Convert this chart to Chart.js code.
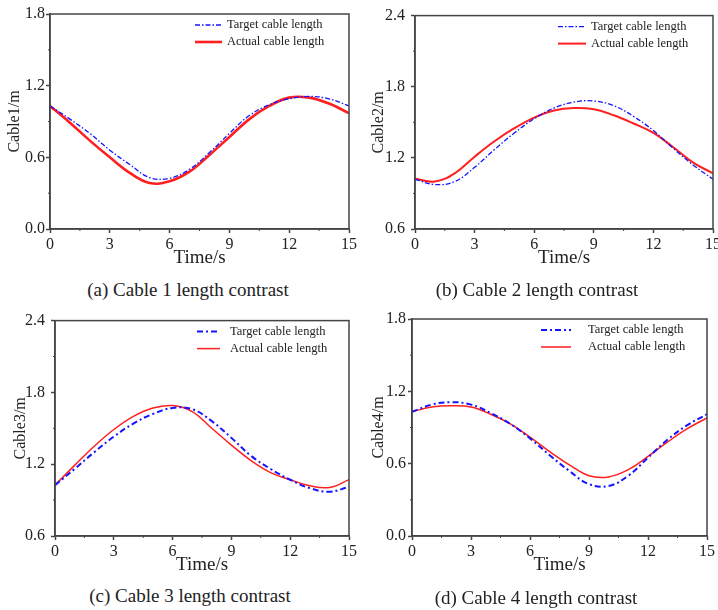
<!DOCTYPE html>
<html>
<head>
<meta charset="utf-8">
<script src="https://cdn.jsdelivr.net/npm/chart.js@4.4.1/dist/chart.umd.min.js"></script>
<style>
  body { margin: 0; background: #fff; width: 718px; height: 610px; position: relative; overflow: hidden; }
  canvas { position: absolute; }
  .cap { position: absolute; font: 19px "Liberation Serif", serif; color: #222; white-space: nowrap; transform: translate(-50%, -50%); }
</style>
</head>
<body>
<canvas id="c1" width="359" height="270" style="left:0;top:0"></canvas>
<canvas id="c2" width="365" height="270" style="left:358px;top:0"></canvas>
<canvas id="c3" width="359" height="272" style="left:0;top:305px"></canvas>
<canvas id="c4" width="359" height="272" style="left:358px;top:305px"></canvas>
<div class="cap" style="left:188px;top:290px">(a) Cable 1 length contrast</div>
<div class="cap" style="left:537px;top:290px">(b) Cable 2 length contrast</div>
<div class="cap" style="left:190px;top:596px">(c) Cable 3 length contrast</div>
<div class="cap" style="left:536px;top:598px">(d) Cable 4 length contrast</div>
<script>
const time = [0, 1, 2, 3, 4, 5, 6, 7, 8, 9, 10, 11, 12, 13, 14, 15];
const xTicks = [0, 3, 6, 9, 12, 15];

// cable lengths (m)
const cable1Target = [1.03, 0.92, 0.80, 0.66, 0.54, 0.43, 0.425, 0.50, 0.64, 0.80, 0.95, 1.04, 1.09, 1.11, 1.09, 1.03];
const cable1Actual = [1.03, 0.89, 0.74, 0.60, 0.47, 0.385, 0.40, 0.48, 0.62, 0.77, 0.92, 1.03, 1.10, 1.10, 1.05, 0.97];
const cable2Target = [1.02, 0.975, 1.00, 1.12, 1.27, 1.41, 1.53, 1.62, 1.67, 1.68, 1.64, 1.55, 1.43, 1.28, 1.14, 1.02];
const cable2Actual = [1.025, 1.00, 1.07, 1.21, 1.34, 1.45, 1.54, 1.60, 1.62, 1.61, 1.56, 1.49, 1.41, 1.29, 1.16, 1.07];
const cable3Target = [1.025, 1.16, 1.30, 1.43, 1.54, 1.62, 1.67, 1.66, 1.56, 1.42, 1.27, 1.16, 1.07, 1.00, 0.97, 1.01];
const cable3Actual = [1.025, 1.19, 1.35, 1.49, 1.60, 1.67, 1.69, 1.64, 1.50, 1.36, 1.23, 1.13, 1.07, 1.02, 1.005, 1.07];
const cable4Target = [1.03, 1.09, 1.11, 1.09, 1.02, 0.93, 0.81, 0.67, 0.54, 0.43, 0.415, 0.50, 0.65, 0.80, 0.92, 1.01];
const cable4Actual = [1.03, 1.07, 1.08, 1.07, 1.01, 0.93, 0.82, 0.70, 0.59, 0.50, 0.49, 0.55, 0.66, 0.78, 0.89, 0.98];

const legendLabels = ['Target cable length', 'Actual cable length'];
const serif = '"Liberation Serif", "Times New Roman", serif';

// box frame, minor ticks and the little legend in the top right corner
const framePlugin = {
  id: 'frame',
  afterDraw(chart, args, opts) {
    const { ctx, chartArea: a, scales } = chart;
    ctx.save();
    ctx.strokeStyle = '#444';
    ctx.lineWidth = 1.5;
    ctx.strokeRect(a.left, a.top, a.right - a.left, a.bottom - a.top);

    // minor ticks halfway between major ones
    ctx.lineWidth = 1;
    const xs = scales.x.ticks.map(t => t.value);
    for (let i = 0; i < xs.length - 1; i++) {
      const px = scales.x.getPixelForValue((xs[i] + xs[i + 1]) / 2);
      ctx.beginPath(); ctx.moveTo(px, a.bottom); ctx.lineTo(px, a.bottom + 2); ctx.stroke();
    }
    const ys = scales.y.ticks.map(t => t.value);
    for (let i = 0; i < ys.length - 1; i++) {
      const py = scales.y.getPixelForValue((ys[i] + ys[i + 1]) / 2);
      ctx.beginPath(); ctx.moveTo(a.left, py); ctx.lineTo(a.left - 2, py); ctx.stroke();
    }

    // legend
    ctx.font = '12.5px ' + serif;
    ctx.textBaseline = 'middle';
    ctx.fillStyle = '#222';
    chart.data.datasets.forEach((ds, i) => {
      const y = a.top + opts.rowY[i];
      ctx.strokeStyle = ds.borderColor;
      ctx.lineWidth = ds.borderWidth;
      ctx.setLineDash(ds.borderDash || []);
      ctx.beginPath();
      ctx.moveTo(a.right - opts.lineStart, y);
      ctx.lineTo(a.right - opts.lineEnd, y);
      ctx.stroke();
      ctx.setLineDash([]);
      ctx.fillText(ds.label, a.right - opts.textStart, y);
    });
    ctx.restore();
  }
};

function makeChart(id, p) {
  return new Chart(document.getElementById(id), {
    type: 'line',
    data: {
      labels: time,
      datasets: [
        {
          label: legendLabels[0],
          data: p.target,
          borderColor: '#1414ff',
          borderWidth: p.blueWidth,
          borderDash: p.blueDash,
          pointRadius: 0,
          tension: 0.4,
          fill: false
        },
        {
          label: legendLabels[1],
          data: p.actual,
          borderColor: '#ff1f1f',
          borderWidth: p.redWidth,
          pointRadius: 0,
          tension: 0.4,
          fill: false
        }
      ]
    },
    options: {
      responsive: false,
      animation: false,
      devicePixelRatio: 1,
      layout: { padding: { top: 14, right: p.padRight, left: 0, bottom: 0 } },
      plugins: {
        legend: { display: false },
        tooltip: { enabled: false },
        frame: p.legend
      },
      scales: {
        x: {
          type: 'linear',
          min: 0,
          max: 15,
          afterBuildTicks: s => { s.ticks = xTicks.map(v => ({ value: v })); },
          afterFit: s => { s.height = 41; },
          grid: { drawOnChartArea: false, tickLength: 4, tickColor: '#444', tickWidth: 1.5 },
          border: { color: '#444', width: 1.5 },
          ticks: { font: { family: serif, size: 16 }, color: '#222', padding: 2, maxRotation: 0 },
          title: { display: true, text: 'Time/s', font: { family: serif, size: 19 }, color: '#222', padding: { top: 0, bottom: 1 } }
        },
        y: {
          min: p.yMin,
          max: p.yMax,
          afterBuildTicks: s => { s.ticks = p.yTicks.map(v => ({ value: v })); },
          afterFit: s => { s.width = p.yWidth; },
          grid: { drawOnChartArea: false, tickLength: 4, tickColor: '#444', tickWidth: 1.5 },
          border: { color: '#444', width: 1.5 },
          ticks: { font: { family: serif, size: 16 }, color: '#222', padding: p.yPad, callback: v => v.toFixed(1) },
          title: { display: true, text: p.yTitle, font: { family: serif, size: 16 }, color: '#222', padding: { top: p.titlePad, bottom: 0 } }
        }
      }
    },
    plugins: [framePlugin]
  });
}

makeChart('c1', {
  target: cable1Target, actual: cable1Actual, yMin: 0, yMax: 1.8, yTicks: [0, 0.6, 1.2, 1.8],
  yTitle: 'Cable1/m', yWidth: 50, yPad: 1, titlePad: 5, padRight: 10,
  blueWidth: 1.3, blueDash: [5, 2, 1.5, 2], redWidth: 2.6,
  legend: { rowY: [11, 28], lineStart: 154, lineEnd: 127, textStart: 122 }
});
makeChart('c2', {
  target: cable2Target, actual: cable2Actual, yMin: 0.6, yMax: 2.4, yTicks: [0.6, 1.2, 1.8, 2.4],
  yTitle: 'Cable2/m', yWidth: 57, yPad: 6, titlePad: 11, padRight: 10,
  blueWidth: 1.3, blueDash: [5, 2, 1.5, 2], redWidth: 2,
  legend: { rowY: [11, 28], lineStart: 155, lineEnd: 127, textStart: 122 }
});
makeChart('c3', {
  target: cable3Target, actual: cable3Actual, yMin: 0.6, yMax: 2.4, yTicks: [0.6, 1.2, 1.8, 2.4],
  yTitle: 'Cable3/m', yWidth: 55, yPad: 6, titlePad: 11, padRight: 10,
  blueWidth: 2, blueDash: [6, 3, 2, 3], redWidth: 1.5,
  legend: { rowY: [11, 28], lineStart: 152, lineEnd: 129, textStart: 119 }
});
makeChart('c4', {
  target: cable4Target, actual: cable4Actual, yMin: 0, yMax: 1.8, yTicks: [0, 0.6, 1.2, 1.8],
  yTitle: 'Cable4/m', yWidth: 54, yPad: 2, titlePad: 11, padRight: 10,
  blueWidth: 2, blueDash: [6, 3, 2, 3], redWidth: 1.5,
  legend: { rowY: [11, 28], lineStart: 166, lineEnd: 136, textStart: 119 }
});
</script>
</body>
</html>
